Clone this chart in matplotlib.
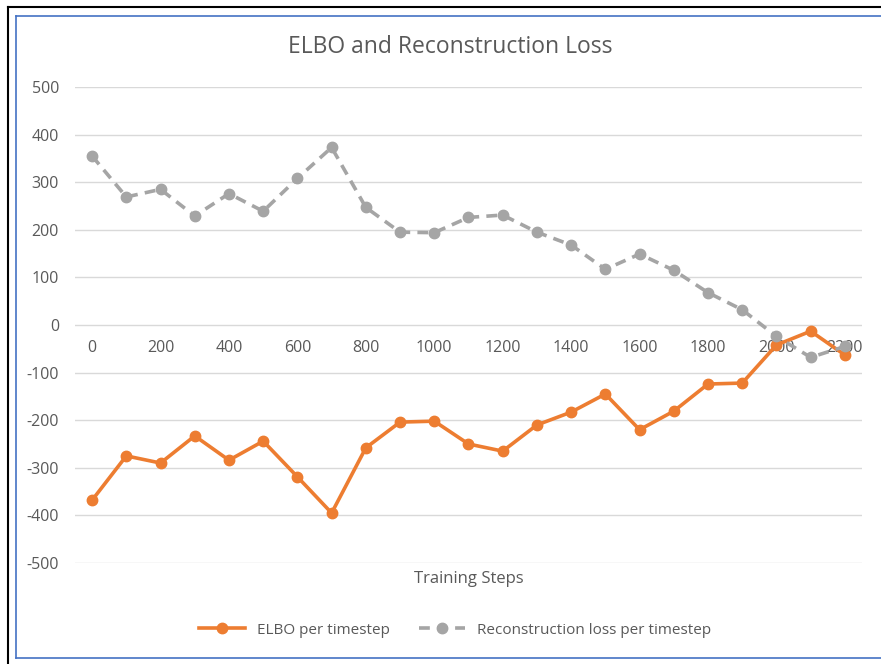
import matplotlib
matplotlib.use("Agg")
import matplotlib.pyplot as plt
from matplotlib.lines import Line2D

steps = [0, 100, 200, 300, 400, 500, 600, 700, 800, 900, 1000, 1100,
         1200, 1300, 1400, 1500, 1600, 1700, 1800, 1900, 2000, 2100, 2200]
elbo = [-368, -275, -290, -233, -284, -244, -319, -395, -258, -204, -202, -250,
        -265, -210, -183, -145, -220, -181, -124, -122, -42, -13, -63]
recon = [355, 269, 285, 229, 276, 239, 308, 373, 247, 195, 194, 226,
         231, 195, 168, 117, 149, 115, 68, 32, -24, -68, -45]
y_ticks = [-500, -400, -300, -200, -100, 0, 100, 200, 300, 400, 500]

ORANGE = "#ED7D31"
GRAY = "#A5A5A5"
TXT = "#595959"
GRID = "#D9D9D9"

plt.rcParams['font.family'] = ['Open Sans', 'DejaVu Sans']

W, H = 881, 664
fig = plt.figure(figsize=(W / 100, H / 100), dpi=100)

# borders
fig.add_artist(Line2D([7.5 / W, 7.5 / W], [0, 1 - 7 / H], color="black", lw=1.5))
fig.add_artist(Line2D([7.5 / W, 1], [1 - 7 / H, 1 - 7 / H], color="black", lw=1.5))
fig.add_artist(Line2D([15.5 / W, 1], [1 - 15.5 / H, 1 - 15.5 / H], color="#4472C4", lw=1.2))
fig.add_artist(Line2D([15.5 / W, 15.5 / W], [1 - 15.5 / H, 1 - 658 / H], color="#4472C4", lw=1.2))
fig.add_artist(Line2D([15.5 / W, 1], [1 - 658 / H, 1 - 658 / H], color="#4472C4", lw=1.2))

ax = fig.add_axes([75 / W, 1 - 563 / H, 787 / W, 476 / H])
x = list(range(len(steps)))
ax.plot(x, elbo, color=ORANGE, lw=2.6, marker="o", ms=7.5, zorder=3,
        label="ELBO per timestep")
ax.plot(x, recon, color=GRAY, lw=2.6, ls=(0, (3, 2)), marker="o", ms=7.5, zorder=3,
        label="Reconstruction loss per timestep")

ax.set_xlim(-0.5, len(steps) - 0.5)
ax.set_ylim(-500, 500)
ax.set_yticks(y_ticks)
ax.set_yticklabels([str(v) for v in y_ticks])
ax.set_xticks(x[::2])
ax.set_xticklabels([str(s) for s in steps[::2]])
ax.yaxis.grid(True, color=GRID, lw=1)
ax.set_axisbelow(True)
for s in ["top", "right", "left"]:
    ax.spines[s].set_visible(False)
ax.spines["bottom"].set_position(("data", 0))
ax.spines["bottom"].set_visible(False)
ax.tick_params(axis="both", length=0, colors=TXT, labelsize=11.5)
ax.tick_params(axis="y", pad=11.5)
ax.tick_params(axis="x", pad=11)

fig.text(469 / W, 1 - 579 / H, "Training Steps", ha="center", va="center",
         color=TXT, fontsize=12)
fig.text(450 / W, 1 - 47 / H, "ELBO and Reconstruction Loss", ha="center", va="center",
         color=TXT, fontsize=16.5)

fig.legend(loc="center", bbox_to_anchor=(455 / W, 1 - 630 / H), ncol=2, frameon=False,
           fontsize=11, labelcolor=TXT, columnspacing=1.9, handlelength=3.0)

fig.savefig("out.png", dpi=100)
